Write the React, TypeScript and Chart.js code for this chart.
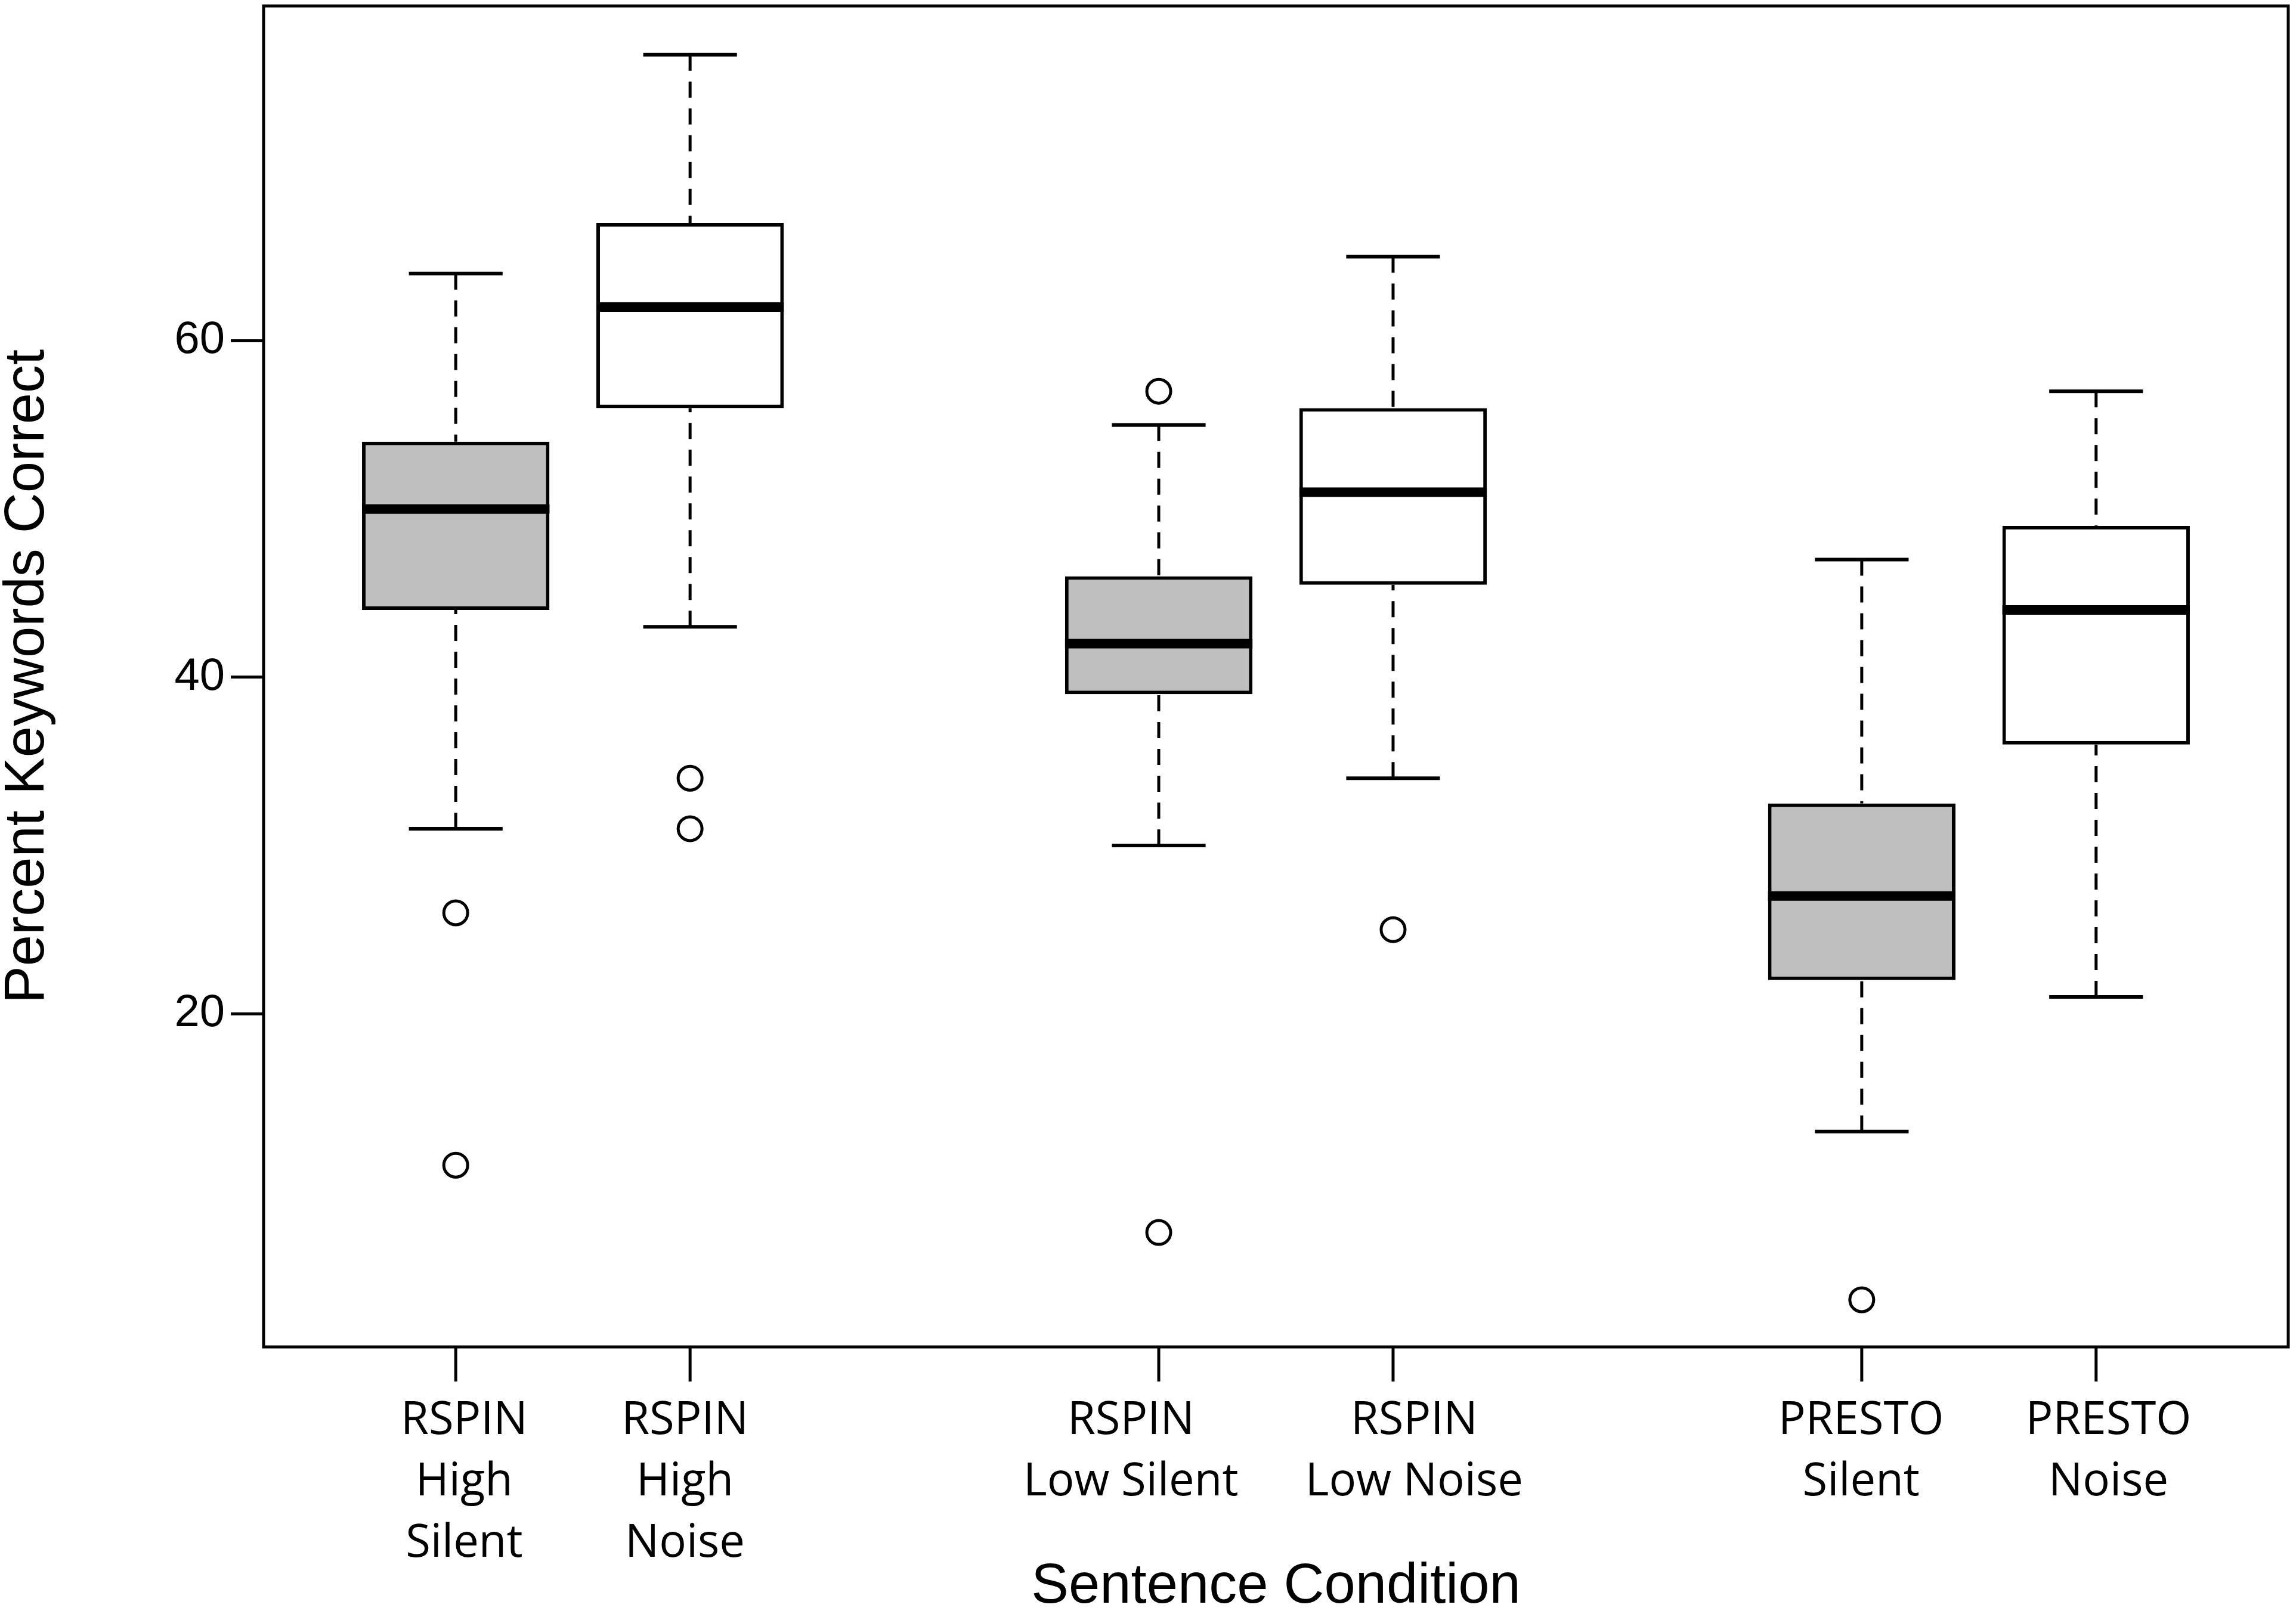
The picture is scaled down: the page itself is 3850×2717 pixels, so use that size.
import React, { useEffect, useRef } from "react";
import { Chart, registerables } from "chart.js";

Chart.register(...registerables);

// ---- data ----
const categories: string[][] = [
  ["RSPIN", "High", "Silent"],
  ["RSPIN", "High", "Noise"],
  ["RSPIN", "Low Silent"],
  ["RSPIN", "Low Noise"],
  ["PRESTO", "Silent"],
  ["PRESTO", "Noise"],
];
const positions = [1, 2, 4, 5, 7, 8];
// label centres (the source placed its category labels slightly off the tick marks)
const labelPositions = [1.036, 1.978, 3.881, 5.09, 6.997, 8.053];
const conditionType = ["Silent", "Noise", "Silent", "Noise", "Silent", "Noise"];
const whiskerLow = [31, 43, 30, 34, 13, 21];
const q1 = [44, 56, 39, 45.5, 22, 36];
const median = [50, 62, 42, 51, 27, 44];
const q3 = [54, 67, 46, 56, 32.5, 49];
const whiskerHigh = [64, 77, 55, 65, 47, 57];
const outliers: number[][] = [[26, 11], [34, 31], [57, 7], [25], [3], []];
const yTicks = [20, 40, 60];
const xRange = [0.18, 8.82];
const yRange = [0.2, 79.9];

const W = 3850;
const H = 2717;
const SANS = "'Liberation Sans', Arial, sans-serif";
const LABEL = "'Open Sans', 'Noto Sans', sans-serif";

const boxPlugin = {
  id: "boxWhiskers",
  afterDatasetsDraw(chart: any) {
    const { ctx, chartArea } = chart;
    const x = chart.scales.x;
    const y = chart.scales.y;
    ctx.save();
    ctx.strokeStyle = "#000";
    positions.forEach((p, i) => {
      const cx = x.getPixelForValue(p);
      // dashed whiskers (drawn from whisker end toward the hinge)
      ctx.lineWidth = 5;
      ctx.lineCap = "butt";
      ctx.setLineDash([27, 18]);
      ctx.beginPath();
      ctx.moveTo(cx, y.getPixelForValue(whiskerHigh[i]));
      ctx.lineTo(cx, y.getPixelForValue(q3[i]));
      ctx.stroke();
      ctx.beginPath();
      ctx.moveTo(cx, y.getPixelForValue(whiskerLow[i]));
      ctx.lineTo(cx, y.getPixelForValue(q1[i]));
      ctx.stroke();
      ctx.setLineDash([]);
      // staples
      ctx.lineWidth = 6;
      const sl = x.getPixelForValue(p - 0.2);
      const sr = x.getPixelForValue(p + 0.2);
      [whiskerHigh[i], whiskerLow[i]].forEach((v) => {
        const py = y.getPixelForValue(v);
        ctx.beginPath();
        ctx.moveTo(sl, py);
        ctx.lineTo(sr, py);
        ctx.stroke();
      });
      // median
      ctx.lineWidth = 16;
      const bl = x.getPixelForValue(p - 0.4);
      const br = x.getPixelForValue(p + 0.4);
      const my = y.getPixelForValue(median[i]);
      ctx.beginPath();
      ctx.moveTo(bl, my);
      ctx.lineTo(br, my);
      ctx.stroke();
      // x tick mark at the box position
      ctx.lineWidth = 5;
      ctx.beginPath();
      ctx.moveTo(cx, chartArea.bottom);
      ctx.lineTo(cx, chartArea.bottom + 58);
      ctx.stroke();
    });
    // frame
    ctx.lineWidth = 5;
    ctx.strokeRect(
      chartArea.left,
      chartArea.top,
      chartArea.right - chartArea.left,
      chartArea.bottom - chartArea.top
    );
    ctx.restore();
  },
};

export default function App() {
  const ref = useRef<HTMLCanvasElement>(null);

  useEffect(() => {
    document.body.style.margin = "0";
    const canvas = ref.current;
    if (!canvas) return;

    const boxData = positions.map((p, i) => ({ x: p, y: [q1[i], q3[i]] }));
    const outlierData: { x: number; y: number }[] = [];
    outliers.forEach((list, i) => list.forEach((v) => outlierData.push({ x: positions[i], y: v })));

    const chart = new Chart(canvas, {
      type: "bar",
      data: {
        datasets: [
          {
            type: "bar",
            xAxisID: "x",
            yAxisID: "y",
            data: boxData as any,
            backgroundColor: conditionType.map((t) => (t === "Silent" ? "#bfbfbf" : "#ffffff")),
            borderColor: "#000",
            borderWidth: 6,
            borderSkipped: false,
            barPercentage: 0.8,
            categoryPercentage: 1,
            order: 2,
          } as any,
          {
            type: "scatter",
            xAxisID: "x",
            yAxisID: "y",
            data: outlierData,
            pointRadius: 20,
            pointHoverRadius: 20,
            pointBorderWidth: 5,
            pointBackgroundColor: "rgba(0,0,0,0)",
            pointBorderColor: "#000",
            showLine: false,
            clip: false,
            order: 1,
          } as any,
        ],
      },
      options: {
        animation: false,
        responsive: false,
        devicePixelRatio: 1,
        layout: { autoPadding: false, padding: { top: 10, right: 13, bottom: 0, left: 0 } },
        plugins: {
          legend: { display: false },
          tooltip: { enabled: false },
        },
        scales: {
          x: {
            type: "linear",
            axis: "x",
            position: "bottom",
            display: false,
            min: xRange[0],
            max: xRange[1],
            bounds: "data",
            offset: false,
            grid: { offset: false },
            afterBuildTicks: (s: any) => {
              s.ticks = positions.map((v) => ({ value: v }));
            },
          } as any,
          xl: {
            type: "linear",
            axis: "x",
            position: "bottom",
            min: xRange[0],
            max: xRange[1],
            bounds: "data",
            offset: false,
            grid: {
              display: true,
              drawOnChartArea: false,
              drawTicks: true,
              tickLength: 58,
              color: "rgba(0,0,0,0)",
              lineWidth: 5,
              offset: false,
            },
            border: { display: false },
            afterBuildTicks: (s: any) => {
              s.ticks = labelPositions.map((v) => ({ value: v }));
            },
            afterFit: (s: any) => {
              s.height = H - 2259;
              s.paddingLeft = 0;
              s.paddingRight = 0;
            },
            ticks: {
              autoSkip: false,
              maxRotation: 0,
              minRotation: 0,
              padding: 15,
              color: "#000",
              font: { family: LABEL, size: 76, lineHeight: 1.355 },
              callback: (_v: any, index: number) => categories[index] ?? "",
            },
            title: {
              display: true,
              text: "Sentence Condition",
              color: "#000",
              font: { family: SANS, size: 94, lineHeight: 1 },
              padding: { top: 0, bottom: 8 },
            },
          } as any,
          y: {
            type: "linear",
            min: yRange[0],
            max: yRange[1],
            bounds: "data",
            beginAtZero: false,
            grid: {
              display: true,
              drawOnChartArea: false,
              drawTicks: true,
              tickLength: 55,
              color: "#000",
              lineWidth: 5,
            },
            border: { display: false },
            afterBuildTicks: (s: any) => {
              s.ticks = yTicks.map((v) => ({ value: v }));
            },
            afterFit: (s: any) => {
              s.width = 442;
              s.paddingTop = 0;
              s.paddingBottom = 0;
            },
            ticks: {
              padding: 10,
              color: "#000",
              font: { family: SANS, size: 76 },
              callback: (v: any) => String(v),
            },
            title: {
              display: true,
              text: "Percent Keywords Correct",
              color: "#000",
              font: { family: SANS, size: 94, lineHeight: 1 },
              padding: { top: 0, bottom: 0 },
            },
          } as any,
        },
      },
      plugins: [boxPlugin],
    } as any);

    return () => chart.destroy();
  }, []);

  return (
    <div style={{ position: "absolute", left: 0, top: 0, width: W, height: H, background: "#fff" }}>
      <canvas ref={ref} width={W} height={H} style={{ width: W, height: H, display: "block" }} />
    </div>
  );
}
